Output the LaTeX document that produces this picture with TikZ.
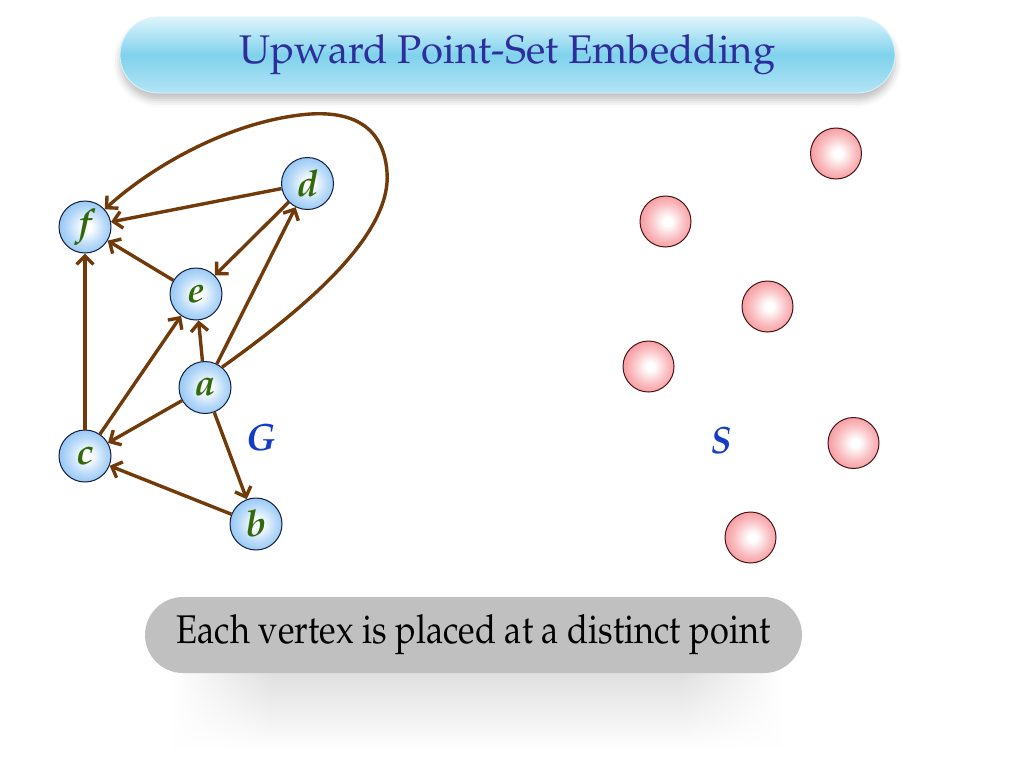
\documentclass[tikz,border=0pt]{standalone}
\usepackage[T1]{fontenc}
\usepackage{mathpazo}
\usepackage{graphicx}
\usetikzlibrary{arrows.meta,shadows.blur,fadings}
\definecolor{edgebrown}{RGB}{112,58,10}
\definecolor{nodeblue}{RGB}{132,190,244}
\definecolor{nodeborder}{RGB}{20,30,60}
\definecolor{ptred}{RGB}{246,140,146}
\definecolor{ptborder}{RGB}{70,20,20}
\definecolor{lblgreen}{RGB}{50,105,10}
\definecolor{lblblue}{RGB}{20,60,200}
\definecolor{titletext}{RGB}{45,45,155}
\definecolor{titletop}{RGB}{222,244,252}
\definecolor{titlemid}{RGB}{128,210,236}
\definecolor{titlebot}{RGB}{178,228,246}
\definecolor{boxgray}{RGB}{192,192,192}
\definecolor{shadowtop}{RGB}{222,222,222}
\pgfdeclareradialshading{ballblue}{\pgfpoint{2bp}{0bp}}{color(0bp)=(white); color(4bp)=(white); color(17bp)=(nodeblue!55!white); color(30bp)=(nodeblue); color(50bp)=(nodeblue)}
\pgfdeclareradialshading{ballred}{\pgfpoint{2bp}{0bp}}{color(0bp)=(white); color(4bp)=(white); color(17bp)=(ptred!55!white); color(30bp)=(ptred); color(50bp)=(ptred)}
\tikzset{
  vtx/.style={circle, draw=nodeborder, line width=1pt, minimum size=52pt, inner sep=0pt,
    shading=ballblue, text=lblgreen, font=\fontsize{37}{38}\selectfont\bfseries\itshape},
  pt/.style={circle, draw=ptborder, line width=1pt, minimum size=51pt, inner sep=0pt,
    shading=ballred},
  setlbl/.style={text=lblblue, font=\fontsize{38}{40}\selectfont\bfseries\itshape},
  edge/.style={draw=edgebrown, line width=3.4pt, -{Straight Barb[length=8.5pt,width=17pt]}},
  titlebox/.style={rounded corners=38pt, minimum width=775pt, minimum height=76pt, inner sep=0pt,
    draw=white!85!cyan, line width=0.8pt,
    top color=titletop, bottom color=titlebot, middle color=titlemid,
    text=titletext, font=\fontsize{40}{46}\selectfont,
    blur shadow={shadow xshift=0pt, shadow yshift=-7pt, shadow blur radius=7pt, shadow opacity=25}},
  notebox/.style={rounded corners=38pt, minimum width=657pt, minimum height=76pt, inner sep=0pt,
    fill=boxgray, text=black, font=\fontsize{40}{46}\selectfont}
}
\begin{document}
\begin{tikzpicture}[x=1pt,y=-1pt]
\useasboundingbox (0,0) rectangle (1024,768);
% title
\node[titlebox] (title) at (507.5,55) {Upward Point-Set Embedding};
% soft shadow beneath the note box
\shade[top color=shadowtop, bottom color=white] (172,670) rectangle (782,750);
\fill[white, path fading=east] (171,668) rectangle (275,752);
\fill[white, path fading=west] (679,668) rectangle (783,752);
\node[notebox] (note) at (473.5,635) {\scalebox{0.86}[1]{Each vertex is placed at a distinct point}};
% graph G
\node[vtx] (f) at (85,227) {f};
\node[vtx] (d) at (307.5,183.5) {d};
\node[vtx] (e) at (196,294) {e};
\node[vtx] (a) at (205,387.5) {a};
\node[vtx] (c) at (85,456) {c};
\node[vtx] (b) at (256,524) {b};
\node[setlbl] (G) at (261,437) {G};
\draw[edge] (d) -- (f);
\draw[edge] (e) -- (f);
\draw[edge] (c) -- (f);
\draw[edge] (d) -- (e);
\draw[edge] (a) -- (d);
\draw[edge] (a) -- (e);
\draw[edge] (c) -- (e);
\draw[edge] (a) -- (c);
\draw[edge] (a) -- (b);
\draw[edge] (b) -- (c);
\draw[edge] (a.50) .. controls (305,308) and (392,235) .. (387,172)
   .. controls (383,118) and (340,110) .. (300,115)
   .. controls (225,124) and (150,168) .. (f.42);
% point set S
\node[pt] (p1) at (836,153.5) {};
\node[pt] (p2) at (665.5,221.5) {};
\node[pt] (p3) at (767.5,306.5) {};
\node[pt] (p4) at (648.5,366.5) {};
\node[pt] (p5) at (853.5,443) {};
\node[pt] (p6) at (750.5,537.5) {};
\node[setlbl] (S) at (721,440) {S};
\end{tikzpicture}
\end{document}
